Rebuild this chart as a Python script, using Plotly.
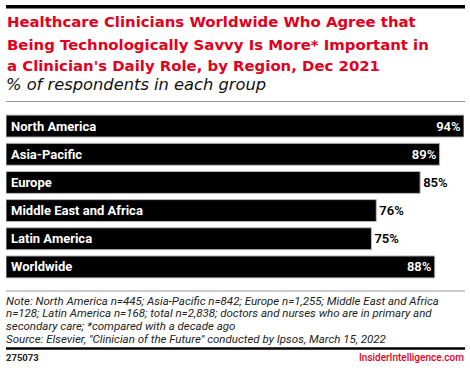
import plotly.graph_objects as go

categories = ["North America", "Asia-Pacific", "Europe", "Middle East and Africa", "Latin America", "Worldwide"]
values = [94, 89, 85, 76, 75, 88]
value_labels = ["94%", "89%", "85%", "76%", "75%", "88%"]
label_positions = ["inside", "inside", "outside", "outside", "outside", "inside"]

title_lines = [
    "Healthcare Clinicians Worldwide Who Agree that",
    "Being Technologically Savvy Is More* Important in",
    "a Clinician's Daily Role, by Region, Dec 2021",
]
subtitle = "% of respondents in each group"
note_lines = [
    "Note: North America n=445; Asia-Pacific n=842; Europe n=1,255; Middle East and Africa",
    "n=128; Latin America n=168; total n=2,838; doctors and nurses who are in primary and",
    "secondary care; *compared with a decade ago",
    "Source: Elsevier, \"Clinician of the Future\" conducted by Ipsos, March 15, 2022",
]
chart_id = "275073"
brand = "InsiderIntelligence.com"

W, H = 470, 368
RED = "#e3001b"
FONT = "Roboto"
TFONT = "DejaVu Sans"

def py(p):
    return 1 - p / H

def px(p):
    return p / W

fig = go.Figure()
fig.add_trace(go.Bar(
    x=values, y=categories, orientation="h",
    marker=dict(color="#000000", line=dict(color="#bbbbbb", width=1)),
    text=value_labels, textposition=label_positions,
    insidetextanchor="end",
    insidetextfont=dict(color="white", size=13, family=FONT, weight=600),
    outsidetextfont=dict(color="black", size=13, family=FONT, weight=600),
    cliponaxis=False, width=0.78,
))

annotations = []
for c in categories:
    annotations.append(dict(x=0, y=c, xref="x", yref="y", text=c, showarrow=False,
                            xanchor="left", yanchor="middle", xshift=3,
                            font=dict(color="white", size=13, family=FONT, weight="bold")))

title_y = [22.5, 44.5, 66]
for t, yy in zip(title_lines, title_y):
    annotations.append(dict(x=px(5), y=py(yy), xref="paper", yref="paper", text="<b>%s</b>" % t,
                            showarrow=False, xanchor="left", yanchor="middle",
                            font=dict(color=RED, size=14.9, family=TFONT)))
annotations.append(dict(x=px(4), y=py(85), xref="paper", yref="paper", text="<i>%s</i>" % subtitle,
                        showarrow=False, xanchor="left", yanchor="middle",
                        font=dict(color="#111111", size=16.3, family=TFONT)))
note_y = [300.5, 313.2, 326, 338.8]
for t, yy in zip(note_lines, note_y):
    annotations.append(dict(x=px(4), y=py(yy), xref="paper", yref="paper", text="<i>%s</i>" % t,
                            showarrow=False, xanchor="left", yanchor="middle",
                            font=dict(color="#222222", size=11.5, family=FONT)))
annotations.append(dict(x=px(4), y=py(357.5), xref="paper", yref="paper", text="<b>%s</b>" % chart_id,
                        showarrow=False, xanchor="left", yanchor="middle",
                        font=dict(color="#222222", size=9.5, family=FONT)))
annotations.append(dict(x=px(466), y=py(357.5), xref="paper", yref="paper", text=brand,
                        showarrow=False, xanchor="right", yanchor="middle",
                        font=dict(color=RED, size=10, family=FONT, weight=500)))

shapes = [
    dict(type="line", xref="paper", yref="paper", x0=px(6), x1=px(465), y0=py(6.7), y1=py(6.7),
         line=dict(color="black", width=3.5), layer="above"),
    dict(type="line", xref="paper", yref="paper", x0=px(6), x1=px(465), y0=py(101.5), y1=py(101.5),
         line=dict(color="#999999", width=1)),
    dict(type="line", xref="paper", yref="paper", x0=px(6), x1=px(465), y0=py(291), y1=py(291),
         line=dict(color="#999999", width=1)),
    dict(type="line", xref="paper", yref="paper", x0=px(6), x1=px(465), y0=py(348.5), y1=py(348.5),
         line=dict(color="black", width=2.5)),
]

fig.update_layout(
    width=W, height=H, margin=dict(l=0, r=0, t=0, b=0),
    paper_bgcolor="white", plot_bgcolor="white",
    xaxis=dict(range=[0, 94], visible=False, fixedrange=True, domain=[px(6), px(464)]),
    yaxis=dict(categoryorder="array", categoryarray=categories, autorange="reversed",
               visible=False, fixedrange=True, domain=[py(281), py(112)]),
    showlegend=False, annotations=annotations, shapes=shapes,
)
fig.write_html(
    "out.html", config=dict(displayModeBar=False),
    post_script=(
        "document.body.style.margin='0';"
        "document.documentElement.style.overflow='hidden';"
        "var d=document.getElementById('{plot_id}');"
        "d.style.position='fixed';d.style.top='0';d.style.left='0';"
        "window.scrollTo(0,0);"
    ),
)
